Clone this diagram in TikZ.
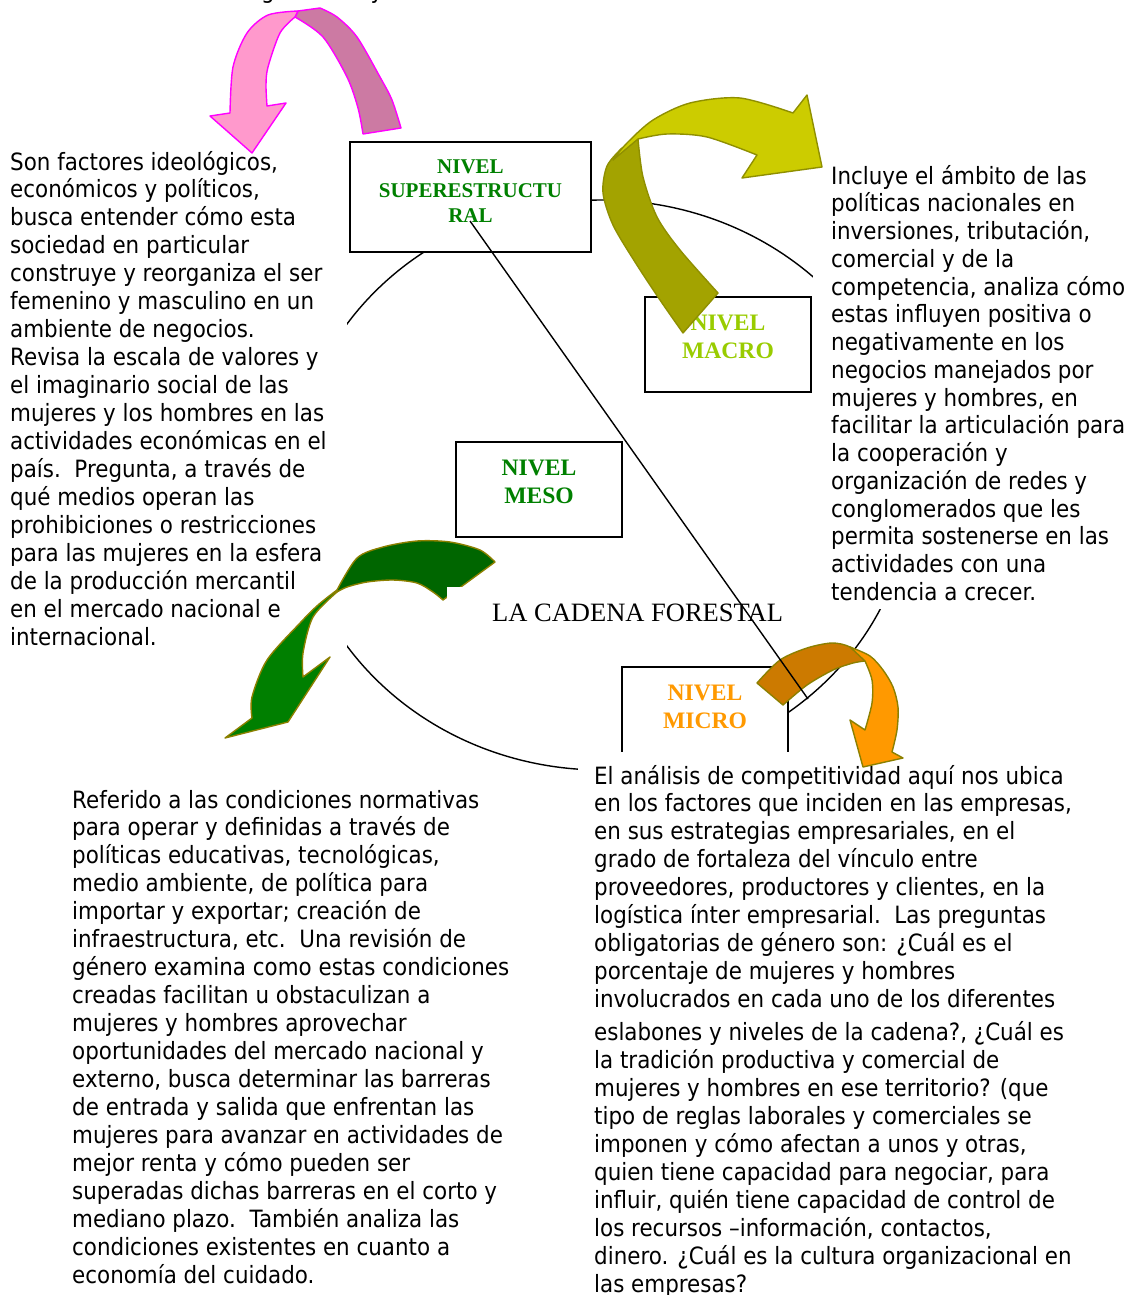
\documentclass[tikz,border=0pt]{standalone}
\usepackage{fontspec}
\setmainfont{DejaVu Sans}[FakeStretch=0.9]
\newfontfamily\boxserif{Liberation Serif}

\definecolor{pinkfront}{HTML}{FF99CC}
\definecolor{pinkback}{HTML}{CC7AA3}
\definecolor{pinkedge}{HTML}{FF00FF}
\definecolor{olivefront}{HTML}{CCCC00}
\definecolor{oliveback}{HTML}{A3A300}
\definecolor{oliveedge}{HTML}{8F8F00}
\definecolor{greenfront}{HTML}{007F00}
\definecolor{greenback}{HTML}{006600}
\definecolor{orangefront}{HTML}{FF9900}
\definecolor{orangeback}{HTML}{CC7A00}
\definecolor{khakiedge}{HTML}{8C8000}
\definecolor{supergreen}{HTML}{008000}
\definecolor{macrogreen}{HTML}{99CC00}
\definecolor{microorange}{HTML}{FF9900}

\begin{document}
\begin{tikzpicture}[x=1pt, y=-1pt,
  bodytext/.style={anchor=base west, inner sep=0pt, font=\fontsize{23.8}{27.95}\selectfont},
  levelbox/.style={draw=black, line width=1.6pt, fill=white, inner sep=0pt},
  levellabel/.style={anchor=base, inner sep=0pt, font=\boxserif\bfseries\fontsize{23.6}{28}\selectfont},
  ring/.style={line width=1.4pt},
  ribbon/.style={line width=1.4pt, line join=round},
]
\useasboundingbox (0,0) rectangle (1135,1295);
\clip (0,0) rectangle (1135,1295);

% descenders of the line above the page edge
\node[bodytext, anchor=base] (fragg) at (268,-1) {g};
\node[bodytext, anchor=base] (fragy) at (377,-1) {y};

% the chain cycle
\draw[ring] (602,485) ellipse [x radius=309pt, y radius=285pt];

% level boxes
\node[levelbox, line width=2pt, minimum width=241pt, minimum height=110pt] (super) at (470.5,197) {};
\node[levelbox, minimum width=166pt, minimum height=95pt] (macro) at (728,344.5) {};
\node[levelbox, minimum width=166pt, minimum height=95pt] (meso) at (539,489.5) {};
\node[levelbox, minimum width=166pt, minimum height=133pt] (micro) at (705,733.5) {};

\node[levellabel, text=supergreen, font=\boxserif\bfseries\fontsize{21}{24.5}\selectfont] (superlbl) at (470.5,173)
  {\begin{tabular}[t]{@{}c@{}}NIVEL\\SUPERESTRUCTU\\RAL\end{tabular}};
\node[levellabel, text=macrogreen] (macrolbl) at (728,330)
  {\begin{tabular}[t]{@{}c@{}}NIVEL\\MACRO\end{tabular}};
\node[levellabel, text=supergreen] (mesolbl) at (539,475.5)
  {\begin{tabular}[t]{@{}c@{}}NIVEL\\MESO\end{tabular}};
\node[levellabel, text=microorange] (microlbl) at (705,700)
  {\begin{tabular}[t]{@{}c@{}}NIVEL\\MICRO\end{tabular}};

% text boxes (white, borderless)
\fill[white] (0,145) rectangle (347,655);
\fill[white] (812.5,150) rectangle (1135,609);
\fill[white] (578,752) rectangle (1135,1295);

\node[bodytext] (supernote) at (10,170) {\begin{tabular}[t]{@{}l@{}}
Son factores ideológicos,\\
económicos y políticos,\\
busca entender cómo esta\\
sociedad en particular\\
construye y reorganiza el ser\\
femenino y masculino en un\\
ambiente de negocios.\\
Revisa la escala de valores y\\
el imaginario social de las\\
mujeres y los hombres en las\\
actividades económicas en el\\
país.\ \ Pregunta, a través de\\
qué medios operan las\\
prohibiciones o restricciones\\
para las mujeres en la esfera\\
de la producción mercantil\\
en el mercado nacional e\\
internacional.
\end{tabular}};

\node[bodytext, font=\fontsize{23.8}{27.75}\selectfont] (macronote) at (831,184) {\begin{tabular}[t]{@{}l@{}}
Incluye el ámbito de las\\
políticas nacionales en\\
inversiones, tributación,\\
comercial y de la\\
competencia, analiza cómo\\
estas influyen positiva o\\
negativamente en los\\
negocios manejados por\\
mujeres y hombres, en\\
facilitar la articulación para\\
la cooperación y\\
organización de redes y\\
conglomerados que les\\
permita sostenerse en las\\
actividades con una\\
tendencia a crecer.
\end{tabular}};

\node[bodytext] (mesonote) at (72,808) {\begin{tabular}[t]{@{}l@{}}
Referido a las condiciones normativas\\
para operar y definidas a través de\\
políticas educativas, tecnológicas,\\
medio ambiente, de política para\\
importar y exportar; creación de\\
infraestructura, etc.\ \ Una revisión de\\
género examina como estas condiciones\\
creadas facilitan u obstaculizan a\\
mujeres y hombres aprovechar\\
oportunidades del mercado nacional y\\
externo, busca determinar las barreras\\
de entrada y salida que enfrentan las\\
mujeres para avanzar en actividades de\\
mejor renta y cómo pueden ser\\
superadas dichas barreras en el corto y\\
mediano plazo.\ \ También analiza las\\
condiciones existentes en cuanto a\\
economía del cuidado.
\end{tabular}};

\node[bodytext] (micronote) at (594,784) {\begin{tabular}[t]{@{}l@{}}
El análisis de competitividad aquí nos ubica\\
en los factores que inciden en las empresas,\\
en sus estrategias empresariales, en el\\
grado de fortaleza del vínculo entre\\
proveedores, productores y clientes, en la\\
logística ínter empresarial.\ \ Las preguntas\\
obligatorias de género son: ¿Cuál es el\\
porcentaje de mujeres y hombres\\
involucrados en cada uno de los diferentes\\[5pt]
eslabones y niveles de la cadena?, ¿Cuál es\\
la tradición productiva y comercial de\\
mujeres y hombres en ese territorio? (que\\
tipo de reglas laborales y comerciales se\\
imponen y cómo afectan a unos y otras,\\
quien tiene capacidad para negociar, para\\
influir, quién tiene capacidad de control de\\
los recursos –información, contactos,\\
dinero. ¿Cuál es la cultura organizacional en\\
las empresas?
\end{tabular}};

% pink curved arrow
\filldraw[ribbon, draw=pinkedge, fill=pinkback]
  (363,134) -- (401,128)
  -- plot[smooth] coordinates {(401,128) (392,100) (380,77) (357,37) (337,17) (320,8)}
  -- (298,11) -- (295,17)
  -- plot[smooth] coordinates {(295,17) (323,37) (347,77) (358,108) (363,134)} -- cycle;
\filldraw[ribbon, draw=pinkedge, fill=pinkfront]
  (298,11)
  -- plot[smooth] coordinates {(298,11) (268,15) (247,33) (233,67) (230,113)}
  -- (210,116) -- (252,153) -- (286,103) -- (267,106)
  -- plot[smooth] coordinates {(267,106) (266,85) (268,67) (280,33) (295,17)} -- cycle;

% olive curved arrow
\filldraw[ribbon, draw=oliveedge, fill=oliveback]
  (683,333) -- (718,293)
  -- plot[smooth] coordinates {(718,293) (680,250) (657,217) (643,177) (638,139)}
  -- (622,148)
  -- plot[smooth] coordinates {(622,148) (607,166) (603,193) (613,225) (635,262) (660,300) (683,333)} -- cycle;
\filldraw[ribbon, draw=oliveedge, fill=olivefront]
  (613,160)
  -- plot[smooth] coordinates {(613,160) (627,143) (653,120) (690,103) (740,98) (793,113)}
  -- (807,95) -- (822,167) -- (742,178) -- (757,155)
  -- plot[smooth] coordinates {(757,155) (707,137) (667,134) (638,139)} -- cycle;

% green curved arrow
\filldraw[ribbon, draw=khakiedge, fill=greenback]
  (495,562) -- (443,600)
  -- plot[smooth] coordinates {(443,600) (433,592) (417,583) (393,580) (367,582) (347,587) (337,592)}
  -- plot[smooth] coordinates {(337,590) (357,558) (383,547) (417,541) (450,542) (480,550) (495,562)} -- cycle;
\filldraw[ribbon, draw=khakiedge, fill=greenfront]
  (337,590)
  -- plot[smooth] coordinates {(337,590) (318,605) (300,623) (267,660) (252,697) (252,718)}
  -- (225,738) -- (288,722) -- (330,657) -- (303,677)
  -- plot[smooth] coordinates {(303,677) (303,653) (313,617) (337,592)} -- cycle;

% title box
\fill[white] (447,587) rectangle (790,640);
\node[anchor=base west, inner sep=0pt, font=\boxserif\fontsize{26.5}{30}\selectfont] (chain) at (492,621) {LA CADENA FORESTAL};

% orange curved arrow
\filldraw[ribbon, draw=khakiedge, fill=orangeback]
  (757,683) -- (783,705)
  -- plot[smooth] coordinates {(783,705) (807,685) (833,670) (853,663) (865,661)}
  -- plot[smooth] coordinates {(865,660) (850,647) (832,643) (807,648) (780,660) (757,683)} -- cycle;
\filldraw[ribbon, draw=khakiedge, fill=orangefront]
  (850,647)
  -- plot[smooth] coordinates {(850,647) (870,656) (883,670) (893,687) (898,707) (897,730) (892,752)}
  -- (903,758) -- (863,767) -- (850,720) -- (865,730)
  -- plot[smooth] coordinates {(865,730) (872,703) (872,680) (865,661)} -- cycle;

% link from the superstructure level down to the cycle
\coordinate (diagstart) at (470,221);
\coordinate (diagend) at (808,699);
\draw[ring] (diagstart) -- (diagend);
\end{tikzpicture}
\end{document}
